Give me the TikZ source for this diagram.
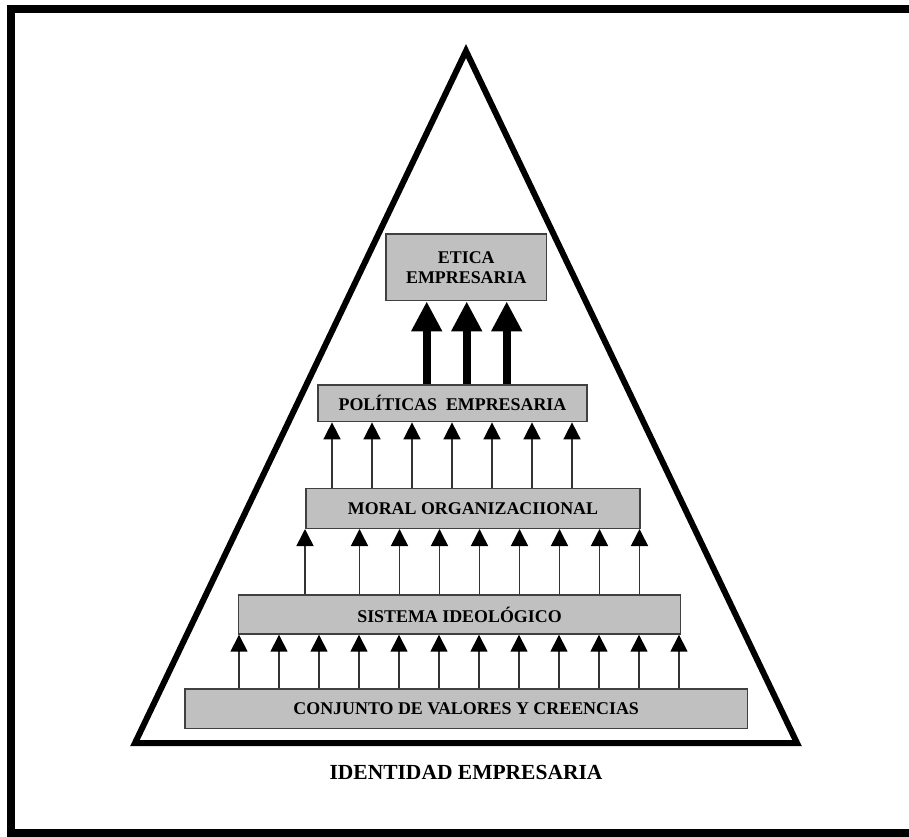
\documentclass[tikz,border=0pt]{standalone}
\usepackage{fontspec}
\setmainfont{Liberation Serif}
\usetikzlibrary{arrows.meta}
\definecolor{boxgray}{HTML}{C0C0C0}
\definecolor{edgegray}{HTML}{404040}
\tikzset{
  level/.style={draw=edgegray, fill=boxgray, line width=1.4pt, inner sep=0pt,
    align=center, font=\bfseries\fontsize{17.9}{20}\selectfont},
  thin arrow/.style={draw=black!80, line width=1.6pt,
    -{Triangle[width=17pt,length=17pt,color=black]}},
  bold arrow/.style={draw=black, line width=8pt,
    -{Triangle[width=29pt,length=30pt]}},
  caption/.style={font=\bfseries\fontsize{21.5}{24}\selectfont}
}
\begin{document}
\begin{tikzpicture}[x=1pt,y=-1pt]
  \useasboundingbox (0,0) rectangle (909,836);
  \begin{scope}
    \clip (0,0) rectangle (909,836);
    % outer frame, its right side runs past the page edge
    \draw[line width=8pt] (11,9) rectangle (930,833);
  \end{scope}
  % pyramid outline
  \draw[line width=6pt, line join=miter] (466,51) -- (797,743) -- (135,743) -- cycle;

  % levels of the pyramid
  \node[level, minimum width=160.7pt, minimum height=66.7pt] (etica) at (466.3,267.3) {ETICA\\EMPRESARIA};
  \node[level, minimum width=269pt, minimum height=36.7pt] (pol) at (452.5,403.3) {POLÍTICAS\ \ EMPRESARIA};
  \node[level, minimum width=334pt, minimum height=40pt] (moral) at (473,508.3) {MORAL ORGANIZACIIONAL};
  \node[level, minimum width=442.4pt, minimum height=39pt] (sist) at (459.5,614.5) {SISTEMA IDEOLÓGICO};
  \node[level, minimum width=562.3pt, minimum height=39.3pt] (conj) at (466.2,708.7) {CONJUNTO DE VALORES Y CREENCIAS};

  \node[caption] (ident) at (466,772) {IDENTIDAD EMPRESARIA};

  % connectors between levels
  \foreach \x in {426.7,466.7,506.7}
    \draw[bold arrow] (\x,0 |- pol.north) -- (\x,0 |- etica.south);
  \foreach \x in {332,372,...,572}
    \draw[thin arrow] (\x,0 |- moral.north) -- (\x,0 |- pol.south);
  \foreach \x in {305,359.5,399.5,439.5,479.5,519.5,559.5,599.5,639.5}
    \draw[thin arrow] (\x,0 |- sist.north) -- (\x,0 |- moral.south);
  \foreach \x in {239,279,...,679}
    \draw[thin arrow] (\x,0 |- conj.north) -- (\x,0 |- sist.south);
\end{tikzpicture}
\end{document}
